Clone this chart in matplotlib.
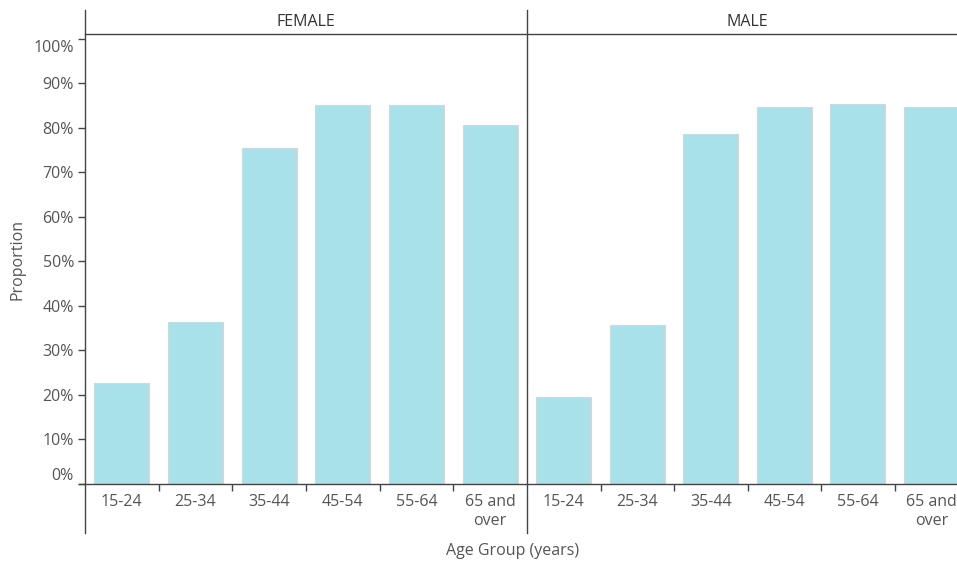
import matplotlib
matplotlib.use("Agg")
import matplotlib.pyplot as plt
import matplotlib.transforms as mtransforms
from matplotlib.lines import Line2D

plt.rcParams['font.family'] = ['Open Sans', 'DejaVu Sans']

age_groups = ['15-24', '25-34', '35-44', '45-54', '55-64', '65 and\nover']
female = [0.227, 0.364, 0.755, 0.852, 0.852, 0.807]
male = [0.196, 0.357, 0.787, 0.847, 0.854, 0.848]
panels = ['FEMALE', 'MALE']
yticks = [0, 0.1, 0.2, 0.3, 0.4, 0.5, 0.6, 0.7, 0.8, 0.9, 1.0]

W, H = 957, 566
fig = plt.figure(figsize=(W / 100, H / 100), dpi=100)

bar_col = '#a9e1ea'
edge_col = '#d6d6d6'
line_col = '#444444'
text_col = '#555555'
fs = 11.5

x0, xmid, xend = 85, 527, 968
ytop, ybot = 34, 484


def fx(px):
    return px / W


def fy(py):
    return 1 - py / H


for i, (name, vals) in enumerate(zip(panels, [female, male])):
    left = x0 if i == 0 else xmid
    right = xmid if i == 0 else xend
    ax = fig.add_axes([fx(left), fy(ybot), fx(right - left), (ybot - ytop) / H])
    xs = list(range(len(age_groups)))
    ax.bar(xs, vals, width=0.75, color=bar_col, edgecolor=edge_col, linewidth=0.8)
    ax.set_xlim(-0.5, len(age_groups) - 0.5)
    ax.set_ylim(0, 1.011)
    ax.spines['right'].set_visible(False)
    ax.spines['left'].set_visible(False)
    for s in ['top', 'bottom']:
        ax.spines[s].set_color(line_col)
        ax.spines[s].set_linewidth(1.0)
    ax.set_xticks(xs)
    ax.set_xticklabels(age_groups, fontsize=fs, color=text_col, linespacing=1.25)
    ax.tick_params(axis='x', which='major', length=0, pad=7)
    ax.set_xticks([k + 0.5 for k in xs[:-1]], minor=True)
    ax.tick_params(axis='x', which='minor', length=5, color=line_col, width=1)
    if i == 0:
        ax.set_yticks(yticks)
        ax.set_yticklabels([f'{int(round(t * 100))}%' for t in yticks],
                           fontsize=fs, color=text_col)
        ax.tick_params(axis='y', length=5, color=line_col, width=1, pad=3)
        labs = ax.get_yticklabels()
        labs[0].set_transform(labs[0].get_transform() +
                              mtransforms.ScaledTranslation(0, 10 / 100, fig.dpi_scale_trans))
        labs[-1].set_transform(labs[-1].get_transform() +
                               mtransforms.ScaledTranslation(0, -7 / 100, fig.dpi_scale_trans))
        ax.set_ylabel('Proportion', fontsize=fs, color=text_col, labelpad=6)
    else:
        ax.set_yticks([])
    fig.text(fx((left + right) / 2), fy(22), name,
             ha='center', va='center', fontsize=fs, color='#333333')

# frame lines spanning header and label rows
for xp in [x0, xmid]:
    fig.add_artist(Line2D([fx(xp), fx(xp)], [fy(10), fy(533)],
                          color=line_col, linewidth=1.0))
fig.add_artist(Line2D([fx(79), fx(x0)], [fy(ybot), fy(ybot)],
                      color=line_col, linewidth=1.0))

fig.text(fx(513), fy(551), 'Age Group (years)', ha='center', va='center',
         fontsize=fs, color=text_col)

fig.savefig('out.png', dpi=100)
